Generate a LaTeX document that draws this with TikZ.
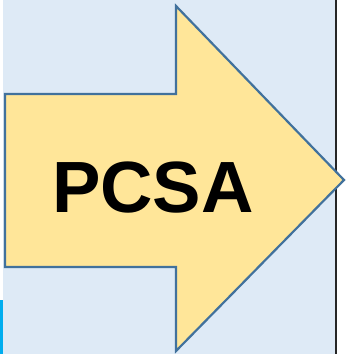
\documentclass[tikz,border=0pt]{standalone}
\usepackage{fontspec}
\setmainfont{Liberation Sans}
\definecolor{panelblue}{HTML}{DEEAF6}
\definecolor{arrowfill}{HTML}{FFE699}
\definecolor{arrowedge}{HTML}{41719C}
\definecolor{edgecyan}{HTML}{00ADEF}
\definecolor{rule}{HTML}{262626}
\tikzset{
  bigarrow/.style={fill=arrowfill, draw=arrowedge, line width=2.2pt, line join=miter},
  label/.style={font=\fontsize{72.6}{80}\selectfont\bfseries, text=black, inner sep=0pt}
}
\begin{document}
\begin{tikzpicture}[x=1pt, y=-1pt]
  \useasboundingbox (0,0) rectangle (346,354);
  % panel background and its right rule
  \fill[white] (0,0) rectangle (346,354);
  \fill[panelblue] (3,0) rectangle (335,354);
  \fill[rule] (335,0) rectangle (337,354);
  % cyan strip at the lower left edge
  \fill[edgecyan] (0,300) rectangle (3,354);
  % block arrow
  \draw[bigarrow] (5,94) -- (176,94) -- (176,6) -- (344,180) -- (176,351) -- (176,267) -- (5,267) -- cycle;
  \node[label, anchor=base] (pcsa) at (153,212) {PCSA};
\end{tikzpicture}
\end{document}
